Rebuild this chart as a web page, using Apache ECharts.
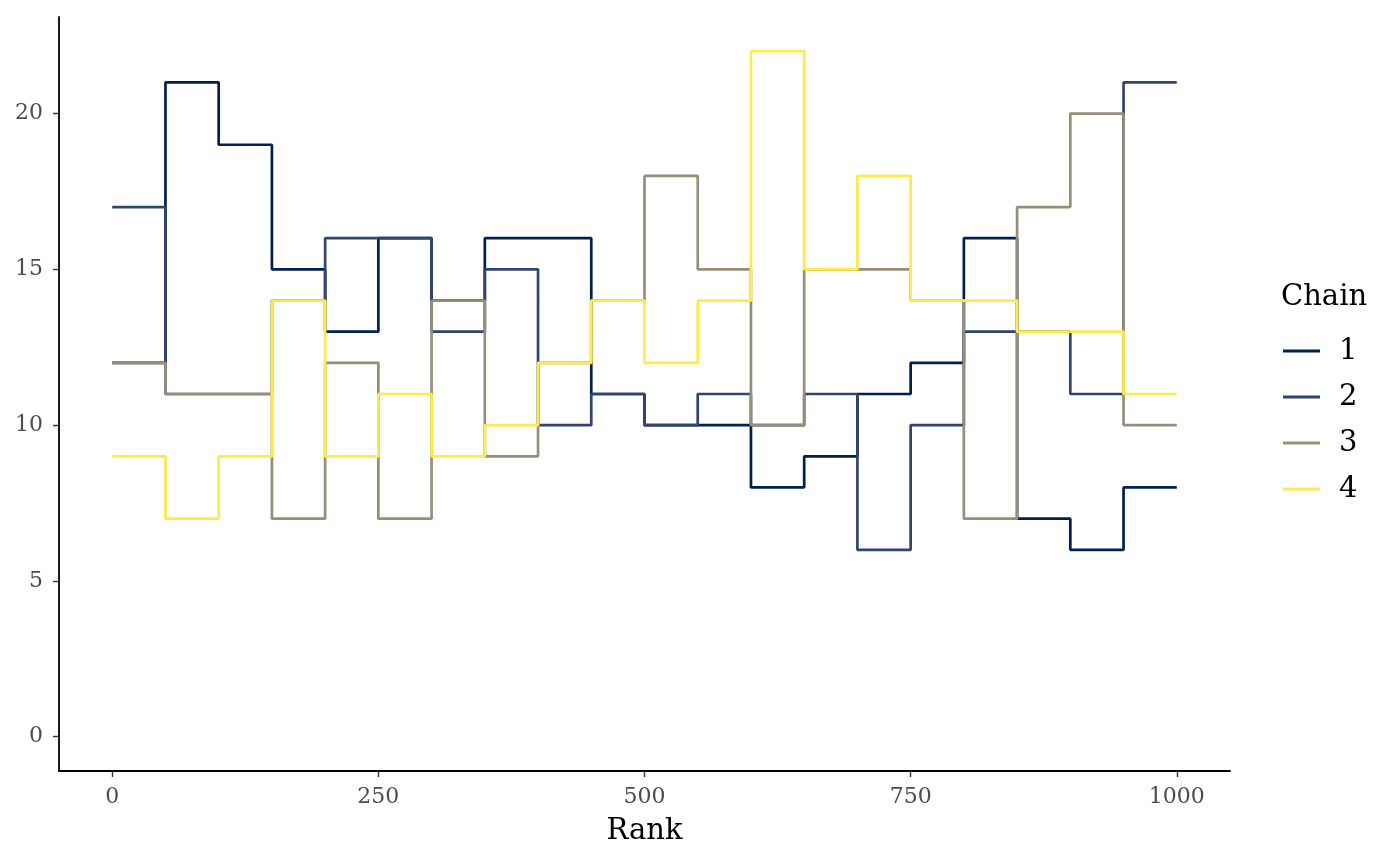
<!DOCTYPE html>
<html>
<head>
<meta charset="utf-8">
<script src="https://cdn.jsdelivr.net/npm/echarts@6/dist/echarts.min.js"></script>
<style>
  html, body { margin: 0; padding: 0; background: #fff; }
  #chart { width: 1400px; height: 866px; }
</style>
</head>
<body>
<div id="chart"></div>
<script>
// bin edges of the rank histogram (20 bins of 50)
var rankEdges = [0, 50, 100, 150, 200, 250, 300, 350, 400, 450, 500,
                 550, 600, 650, 700, 750, 800, 850, 900, 950, 1000];
var chainNames = ['1', '2', '3', '4'];
var chain1 = [12, 21, 19, 15, 13, 16, 14, 16, 16, 11, 10, 10, 8, 9, 11, 12, 16, 7, 6, 8];
var chain2 = [17, 11, 11, 14, 16, 16, 13, 15, 10, 11, 10, 11, 10, 11, 6, 10, 13, 13, 11, 21];
var chain3 = [12, 11, 11, 7, 12, 7, 14, 9, 12, 14, 18, 15, 10, 15, 15, 14, 7, 17, 20, 10];
var chain4 = [9, 7, 9, 14, 9, 11, 9, 10, 12, 14, 12, 14, 22, 15, 18, 14, 14, 13, 13, 11];
var xTicks = [0, 250, 500, 750, 1000];
var yTicks = [0, 5, 10, 15, 20];
var colors = ['#00204D', '#31446B', '#958F78', '#FFEA46'];

var fontFam = 'DejaVu Serif';

// step points: each bin value starts at its left edge, last value carried to 1000
function stepData(counts) {
    var pts = [];
    counts.forEach(function(v, k) {
        pts.push([rankEdges[k], v]);
    });
    pts.push([rankEdges[rankEdges.length - 1], counts[counts.length - 1]]);
    return pts;
}

var allChains = [chain1, chain2, chain3, chain4];
var series = [];
allChains.forEach(function(c, k) {
    series.push({
        name: chainNames[k],
        type: 'line',
        step: 'end',
        showSymbol: false,
        data: stepData(c),
        lineStyle: { width: 2.7, color: colors[k] },
        itemStyle: { color: colors[k] },
        emphasis: { disabled: true }
    });
});

var chart = echarts.init(document.getElementById('chart'));
chart.setOption({
    animation: false,
    title: {
        text: 'Chain',
        left: 1281,
        top: 283,
        padding: 0,
        textStyle: { fontFamily: fontFam, fontSize: 29, fontWeight: 'normal', color: '#000' }
    },
    legend: {
        orient: 'vertical',
        left: 1283,
        top: 336,
        padding: 0,
        itemWidth: 37,
        itemHeight: 3,
        itemGap: 16,
        icon: 'rect',
        textStyle: { fontFamily: fontFam, fontSize: 29, lineHeight: 30, color: '#000', padding: [0, 0, 0, 14] },
        data: chainNames
    },
    grid: { left: 59, right: 170, top: 17, bottom: 95 },
    xAxis: {
        type: 'value',
        min: -50,
        max: 1050,
        name: 'Rank',
        nameLocation: 'middle',
        nameGap: 46,
        nameTextStyle: { fontFamily: fontFam, fontSize: 29, color: '#000' },
        splitLine: { show: false },
        axisLine: { show: true, onZero: false, lineStyle: { color: '#000', width: 1.8 } },
        axisTick: { show: true, length: 6, customValues: xTicks, lineStyle: { color: '#333', width: 1.4 } },
        axisLabel: {
            customValues: xTicks, margin: 15, fontFamily: fontFam, fontSize: 22, color: '#4d4d4d',
            formatter: function(v) { return String(v); }
        }
    },
    yAxis: {
        type: 'value',
        min: -1.1,
        max: 23.1,
        splitLine: { show: false },
        axisLine: { show: true, onZero: false, lineStyle: { color: '#000', width: 1.8 } },
        axisTick: { show: true, length: 6, customValues: yTicks, lineStyle: { color: '#333', width: 1.4 } },
        axisLabel: { customValues: yTicks, margin: 16, fontFamily: fontFam, fontSize: 22, color: '#4d4d4d' }
    },
    series: series
});
</script>
</body>
</html>
